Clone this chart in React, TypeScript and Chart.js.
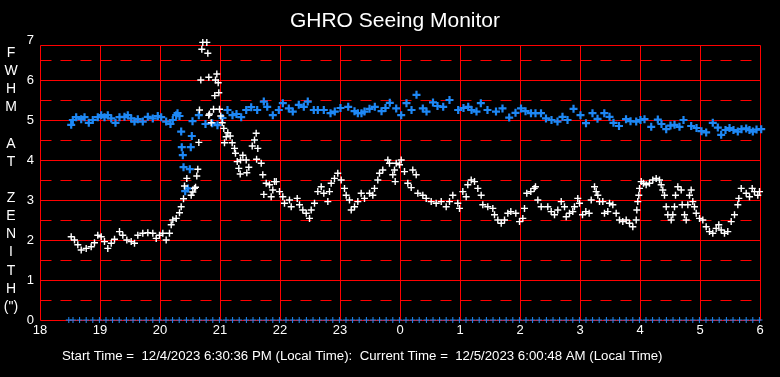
import React, { useEffect, useRef } from 'react';
import { Chart, registerables } from 'chart.js';

Chart.register(...registerables);

const TITLE = 'GHRO Seeing Monitor';
const FOOTER = 'Start Time =  12/4/2023 6:30:36 PM (Local Time):  Current Time =  12/5/2023 6:00:48 AM (Local Time)';
const Y_LETTERS = ['F', 'W', 'H', 'M', '', 'A', 'T', '', 'Z', 'E', 'N', 'I', 'T', 'H', '(")'];
const X_TICKS = [18, 19, 20, 21, 22, 23, 24, 25, 26, 27, 28, 29, 30];
const Y_TICKS = [0, 1, 2, 3, 4, 5, 6, 7];
const Y_SOLID = [0, 1, 2, 3, 4, 5, 6, 6.875];
const Y_DASHED = [0.5, 1.5, 2.5, 3.5, 4.5, 5.5, 6.5];

// [time in hours since midnight of start day, FWHM arcsec]
const blueSeries: [number, number][] = [
  [18.520, 4.88], [18.547, 5.00], [18.603, 5.07], [18.687, 5.02], [18.742, 5.07], [18.813, 4.93],
  [18.880, 5.00], [18.963, 5.07], [19.020, 5.12], [19.075, 5.07], [19.130, 5.12], [19.187, 5.04],
  [19.258, 4.93], [19.325, 5.07], [19.408, 5.08], [19.463, 5.12], [19.520, 5.04], [19.575, 4.96],
  [19.630, 5.02], [19.713, 4.96], [19.797, 5.08], [19.880, 5.04], [19.963, 5.10], [20.020, 5.07],
  [20.103, 4.96], [20.175, 4.90], [20.213, 5.00], [20.270, 5.12], [20.292, 5.17], [20.325, 5.10],
  [20.353, 4.71], [20.363, 4.32], [20.380, 4.12], [20.392, 3.82], [20.420, 3.22], [20.463, 3.29],
  [20.497, 3.77], [20.513, 4.32], [20.530, 4.60], [20.542, 4.97], [20.647, 5.12], [20.758, 4.90],
  [20.870, 4.92], [20.958, 4.87], [21.042, 5.05], [21.125, 5.25], [21.208, 5.12], [21.275, 5.15],
  [21.353, 5.07], [21.437, 5.25], [21.520, 5.32], [21.620, 5.25], [21.730, 5.46], [21.787, 5.33],
  [21.880, 5.12], [21.980, 5.25], [22.047, 5.42], [22.147, 5.29], [22.213, 5.21], [22.313, 5.38],
  [22.397, 5.33], [22.463, 5.46], [22.563, 5.25], [22.630, 5.25], [22.730, 5.25], [22.842, 5.17],
  [22.913, 5.21], [23.008, 5.30], [23.137, 5.33], [23.242, 5.22], [23.297, 5.17], [23.358, 5.17],
  [23.408, 5.21], [23.492, 5.28], [23.580, 5.33], [23.692, 5.22], [23.758, 5.30], [23.830, 5.43],
  [23.937, 5.29], [24.020, 5.12], [24.108, 5.42], [24.192, 5.25], [24.275, 5.63], [24.380, 5.29],
  [24.442, 5.21], [24.550, 5.44], [24.625, 5.35], [24.720, 5.33], [24.825, 5.50], [24.970, 5.25],
  [25.058, 5.30], [25.137, 5.33], [25.192, 5.25], [25.275, 5.21], [25.347, 5.42], [25.458, 5.25],
  [25.600, 5.21], [25.708, 5.29], [25.820, 5.06], [25.925, 5.18], [26.017, 5.29], [26.092, 5.22],
  [26.183, 5.17], [26.258, 5.17], [26.350, 5.17], [26.433, 5.04], [26.525, 5.00], [26.625, 4.96],
  [26.708, 5.08], [26.792, 5.00], [26.892, 5.28], [27.008, 5.12], [27.100, 4.92], [27.208, 5.17],
  [27.292, 5.03], [27.405, 5.17], [27.492, 5.08], [27.558, 4.93], [27.650, 4.85], [27.767, 5.02],
  [27.842, 4.97], [27.937, 4.96], [28.008, 5.00], [28.075, 5.02], [28.187, 4.83], [28.297, 5.01],
  [28.358, 4.90], [28.437, 4.77], [28.508, 4.86], [28.575, 4.88], [28.658, 4.83], [28.725, 5.00],
  [28.853, 4.85], [28.942, 4.80], [29.025, 4.72], [29.103, 4.69], [29.213, 4.93], [29.297, 4.81],
  [29.353, 4.63], [29.425, 4.75], [29.492, 4.80], [29.558, 4.75], [29.630, 4.71], [29.692, 4.77],
  [29.770, 4.79], [29.825, 4.75], [29.880, 4.71], [29.942, 4.76], [30.020, 4.77],
];

const whiteSeries: [number, number][] = [
  [18.520, 2.08], [18.575, 2.00], [18.630, 1.88], [18.687, 1.75], [18.770, 1.79], [18.853, 1.83],
  [18.908, 1.93], [18.963, 2.12], [19.020, 2.08], [19.075, 1.96], [19.130, 1.79], [19.187, 1.92],
  [19.242, 2.02], [19.325, 2.21], [19.380, 2.12], [19.447, 2.00], [19.520, 1.96], [19.575, 1.92],
  [19.630, 2.12], [19.713, 2.17], [19.797, 2.18], [19.880, 2.17], [19.937, 2.04], [19.992, 2.12],
  [20.047, 2.17], [20.103, 2.00], [20.158, 2.17], [20.187, 2.38], [20.213, 2.50], [20.270, 2.54],
  [20.325, 2.68], [20.353, 2.83], [20.392, 3.03], [20.408, 3.35], [20.447, 3.54], [20.520, 3.12],
  [20.547, 3.20], [20.575, 3.29], [20.592, 3.32], [20.613, 3.60], [20.630, 3.77], [20.647, 4.44],
  [20.658, 5.25], [20.680, 6.00], [20.697, 6.77], [20.713, 6.94], [20.780, 6.94], [20.797, 6.67],
  [20.813, 6.07], [20.813, 5.12], [20.825, 5.15], [20.853, 4.93], [20.892, 5.27], [20.913, 5.61],
  [20.925, 6.00], [20.947, 6.15], [20.970, 5.93], [20.980, 5.68], [20.992, 5.27], [21.013, 5.10],
  [21.037, 4.93], [21.063, 4.79], [21.075, 4.43], [21.103, 4.58], [21.130, 4.68], [21.170, 4.60],
  [21.203, 4.43], [21.242, 4.29], [21.258, 4.17], [21.287, 3.96], [21.313, 3.79], [21.337, 3.65],
  [21.342, 4.00], [21.380, 4.12], [21.437, 4.00], [21.447, 3.68], [21.480, 3.82], [21.537, 4.35],
  [21.575, 4.50], [21.603, 4.67], [21.630, 4.29], [21.610, 4.02], [21.687, 3.92], [21.713, 3.63],
  [21.770, 3.42], [21.730, 3.14], [21.825, 3.38], [21.853, 3.08], [21.880, 3.25], [21.908, 3.46],
  [21.937, 3.46], [21.992, 3.21], [22.047, 3.08], [22.075, 2.92], [22.158, 3.00], [22.187, 2.83],
  [22.287, 3.04], [22.325, 2.88], [22.380, 2.75], [22.437, 2.67], [22.492, 2.54], [22.520, 2.75],
  [22.575, 2.92], [22.630, 3.21], [22.687, 3.33], [22.730, 3.17], [22.797, 2.96], [22.825, 3.21],
  [22.853, 3.42], [22.908, 3.54], [22.963, 3.67], [23.020, 3.50], [23.075, 3.29], [23.103, 3.12],
  [23.158, 3.00], [23.187, 2.75], [23.242, 2.83], [23.297, 2.96], [23.353, 3.17], [23.408, 3.04],
  [23.492, 3.17], [23.547, 3.12], [23.575, 3.29], [23.630, 3.50], [23.658, 3.67], [23.713, 3.75],
  [23.797, 4.00], [23.825, 3.92], [23.880, 3.63], [23.908, 3.75], [23.920, 3.46], [23.937, 3.92],
  [23.992, 3.88], [24.020, 4.00], [24.075, 3.71], [24.130, 3.42], [24.187, 3.31], [24.213, 3.75],
  [24.270, 3.63], [24.297, 3.17], [24.380, 3.12], [24.437, 3.04], [24.520, 2.96], [24.603, 2.92],
  [24.687, 2.96], [24.770, 2.83], [24.825, 2.96], [24.880, 3.12], [24.963, 2.92], [24.992, 2.79],
  [25.047, 3.21], [25.103, 3.08], [25.130, 3.38], [25.187, 3.50], [25.242, 3.46], [25.297, 3.29],
  [25.353, 3.12], [25.380, 2.88], [25.463, 2.83], [25.547, 2.79], [25.575, 2.63], [25.630, 2.50],
  [25.687, 2.42], [25.742, 2.50], [25.797, 2.67], [25.847, 2.71], [25.930, 2.67], [25.992, 2.46],
  [26.047, 2.54], [26.075, 2.79], [26.113, 3.17], [26.180, 3.21], [26.237, 3.29], [26.258, 3.33],
  [26.297, 3.00], [26.353, 2.83], [26.463, 2.83], [26.520, 2.71], [26.575, 2.63], [26.630, 2.75],
  [26.687, 2.96], [26.742, 2.83], [26.770, 2.58], [26.825, 2.67], [26.880, 2.71], [26.908, 2.83],
  [26.963, 3.04], [26.992, 2.92], [27.042, 2.63], [27.097, 2.71], [27.153, 2.67], [27.187, 3.00],
  [27.242, 3.33], [27.270, 3.21], [27.297, 3.12], [27.325, 2.96], [27.380, 2.96], [27.408, 2.67],
  [27.463, 2.71], [27.492, 2.92], [27.547, 2.88], [27.603, 2.67], [27.658, 2.50], [27.713, 2.46],
  [27.770, 2.50], [27.825, 2.42], [27.880, 2.33], [27.937, 2.50], [27.947, 2.75], [27.963, 2.96],
  [27.980, 3.12], [27.992, 3.29], [28.020, 3.46], [28.058, 3.42], [28.103, 3.38], [28.158, 3.42],
  [28.213, 3.50], [28.270, 3.54], [28.325, 3.50], [28.353, 3.38], [28.380, 3.25], [28.408, 3.12],
  [28.437, 2.83], [28.463, 2.63], [28.520, 2.50], [28.547, 2.63], [28.575, 2.83], [28.592, 3.12],
  [28.630, 3.33], [28.687, 3.25], [28.703, 2.88], [28.742, 2.63], [28.770, 2.50], [28.797, 2.88],
  [28.825, 3.12], [28.853, 3.25], [28.880, 2.96], [28.908, 2.83], [28.937, 2.67], [28.992, 2.54],
  [29.047, 2.50], [29.103, 2.33], [29.158, 2.21], [29.213, 2.17], [29.270, 2.29], [29.313, 2.38],
  [29.353, 2.25], [29.408, 2.17], [29.463, 2.21], [29.520, 2.46], [29.575, 2.63], [29.630, 2.88],
  [29.647, 3.04], [29.687, 3.29], [29.770, 3.17], [29.825, 3.08], [29.870, 3.29], [29.908, 3.21],
  [29.963, 3.12], [29.992, 3.21],
];

const zeroTimes: number[] = [
  18.48, 18.55, 18.66, 18.77, 18.88, 18.99,
  19.10, 19.21, 19.32, 19.44, 19.55, 19.66, 19.77, 19.88, 19.99,
  20.10, 20.21, 20.32, 20.44, 20.55, 20.66, 20.77, 20.88, 20.99,
  21.10, 21.21, 21.32, 21.44, 21.55, 21.66, 21.77, 21.88, 21.99,
  22.10, 22.21, 22.32, 22.44, 22.55, 22.66, 22.77, 22.88, 22.99,
  23.10, 23.21, 23.32, 23.44, 23.55, 23.66, 23.77, 23.88, 23.99,
  24.10, 24.21, 24.32, 24.44, 24.55, 24.66, 24.77, 24.88, 24.99,
  25.10, 25.21, 25.32, 25.44, 25.55, 25.66, 25.77, 25.88, 25.99,
  26.10, 26.21, 26.32, 26.44, 26.55, 26.66, 26.77, 26.88, 26.99,
  27.10, 27.21, 27.32, 27.44, 27.55, 27.66, 27.77, 27.88, 27.99,
  28.10, 28.21, 28.32, 28.44, 28.55, 28.66, 28.77, 28.88, 28.99,
  29.10, 29.21, 29.32, 29.44, 29.55, 29.66, 29.77, 29.88, 29.99,
];
const zeroValues: number[] = zeroTimes.map(() => 0);

const BLUE = '#1E88F5';
const WHITE = '#FFFFFF';
const RED = '#FF0000';
const FONT = '"Liberation Sans", Arial, sans-serif';

const ghroPlugin = {
  id: 'ghroDecor',
  beforeDraw(chart: any) {
    const { ctx, width, height } = chart;
    ctx.save();
    ctx.fillStyle = '#000';
    ctx.fillRect(0, 0, width, height);
    ctx.restore();
  },
  beforeDatasetsDraw(chart: any) {
    const { ctx } = chart;
    const xs = chart.scales.x;
    const ys = chart.scales.y;
    const crisp = (v: number) => Math.round(v) + 0.5;
    const left = crisp(xs.getPixelForValue(X_TICKS[0]));
    const right = crisp(xs.getPixelForValue(X_TICKS[X_TICKS.length - 1]));
    const bottom = crisp(ys.getPixelForValue(0));
    const top = crisp(ys.getPixelForValue(Y_SOLID[Y_SOLID.length - 1]));
    ctx.save();
    ctx.strokeStyle = RED;
    ctx.lineWidth = 1;
    ctx.setLineDash([11, 9]);
    for (const v of Y_DASHED) {
      const py = crisp(ys.getPixelForValue(v));
      ctx.beginPath();
      ctx.moveTo(left, py);
      ctx.lineTo(right, py);
      ctx.stroke();
    }
    ctx.setLineDash([]);
    for (const v of Y_SOLID) {
      const py = crisp(ys.getPixelForValue(v));
      ctx.beginPath();
      ctx.moveTo(left, py);
      ctx.lineTo(right, py);
      ctx.stroke();
    }
    for (const t of X_TICKS) {
      const px = crisp(xs.getPixelForValue(t));
      ctx.beginPath();
      ctx.moveTo(px, top);
      ctx.lineTo(px, bottom);
      ctx.stroke();
    }
    ctx.restore();
  },
  afterDraw(chart: any) {
    const { ctx } = chart;
    ctx.save();
    ctx.fillStyle = WHITE;
    ctx.textBaseline = 'alphabetic';
    ctx.textAlign = 'center';
    ctx.font = `21px ${FONT}`;
    ctx.fillText(TITLE, 395, 27);
    ctx.textAlign = 'left';
    ctx.font = `13.25px ${FONT}`;
    ctx.fillText(FOOTER, 62, 360);
    ctx.textAlign = 'center';
    ctx.textBaseline = 'middle';
    ctx.font = `14px ${FONT}`;
    Y_LETTERS.forEach((ch, i) => {
      if (ch) ctx.fillText(ch, 11, 53 + i * 18.14);
    });
    ctx.restore();
  },
};

export default function App() {
  const ref = useRef<HTMLCanvasElement | null>(null);
  useEffect(() => {
    document.body.style.margin = '0';
    document.body.style.background = '#000';
    const canvas = ref.current;
    if (!canvas) return;
    const chart = new Chart(canvas, {
      type: 'scatter',
      data: {
        datasets: [
          {
            label: 'Seeing',
            data: whiteSeries.map(([t, v]) => ({ x: t, y: v })),
            pointStyle: 'cross',
            pointRadius: 3.5,
            borderColor: WHITE,
            backgroundColor: WHITE,
            borderWidth: 1.4,
            order: 0,
          },
          {
            label: 'Upper',
            data: blueSeries.map(([t, v]) => ({ x: t, y: v })),
            pointStyle: 'cross',
            pointRadius: 4,
            borderColor: BLUE,
            backgroundColor: BLUE,
            borderWidth: 2.2,
            order: 1,
          },
          {
            label: 'Zero',
            data: zeroTimes.map((t, i) => ({ x: t, y: zeroValues[i] })),
            pointStyle: 'cross',
            pointRadius: 3,
            borderColor: BLUE,
            backgroundColor: BLUE,
            borderWidth: 1,
            order: 2,
          },
        ],
      },
      options: {
        animation: false,
        responsive: false,
        maintainAspectRatio: false,
        clip: false as any,
        layout: { padding: { top: 40, right: 20, bottom: 0, left: 0 } },
        plugins: {
          legend: { display: false },
          title: { display: false },
          tooltip: { enabled: false },
        },
        scales: {
          x: {
            type: 'linear',
            min: 18,
            max: 30,
            afterFit: (s: any) => { s.height = 57; },
            afterBuildTicks: (s: any) => { s.ticks = X_TICKS.map((v) => ({ value: v })); },
            grid: { display: false, drawTicks: false },
            border: { display: false },
            ticks: {
              color: WHITE,
              padding: 3,
              maxRotation: 0,
              autoSkip: false,
              font: { family: FONT, size: 13 },
              callback: (v: any) => String(Number(v) >= 24 ? Number(v) - 24 : Number(v)),
            },
          },
          y: {
            type: 'linear',
            min: 0,
            max: 7,
            afterFit: (s: any) => { s.width = 40; },
            afterBuildTicks: (s: any) => { s.ticks = Y_TICKS.map((v) => ({ value: v })); },
            grid: { display: false, drawTicks: false },
            border: { display: false },
            ticks: {
              color: WHITE,
              padding: 6,
              autoSkip: false,
              font: { family: FONT, size: 13 },
            },
          },
        },
      },
      plugins: [ghroPlugin],
    });
    return () => chart.destroy();
  }, []);
  return (
    <div style={{ width: 780, height: 377, background: '#000' }}>
      <canvas ref={ref} width={780} height={377} style={{ display: 'block' }} />
    </div>
  );
}
